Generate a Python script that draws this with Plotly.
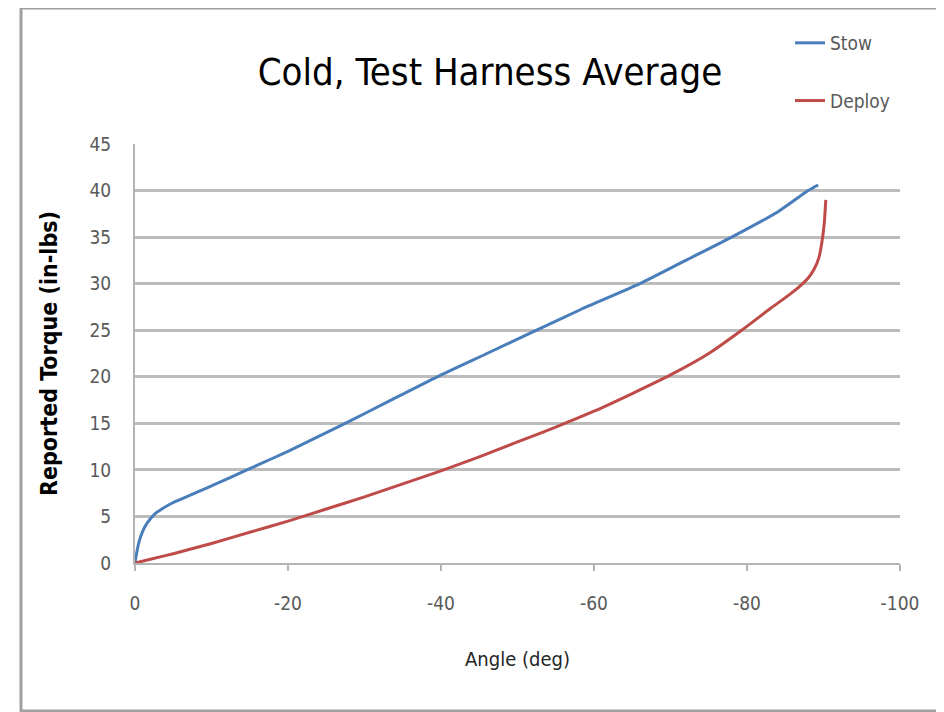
import plotly.graph_objects as go

stow_angle = [0, -0.2, -0.5, -1, -1.6, -2.5, -3.5, -5, -7, -9.5, -12.5, -16, -20, -24, -28, -33, -39.5, -46, -52.5, -58.2, -66, -72, -78, -84, -88, -89.3]
stow_torque = [0, 1.0, 2.2, 3.4, 4.3, 5.2, 5.8, 6.5, 7.2, 8.1, 9.2, 10.5, 12.0, 13.6, 15.2, 17.3, 20.0, 22.5, 25.0, 27.2, 30.0, 32.5, 35.0, 37.7, 40.0, 40.6]

deploy_angle = [0, -2, -5, -10, -15, -20, -25, -30, -35, -40, -45, -50, -55, -60, -65, -70, -75, -79.3, -83, -85.5, -87, -88, -88.8, -89.4, -89.8, -90.1, -90.3]
deploy_torque = [0, 0.4, 1.0, 2.1, 3.3, 4.5, 5.8, 7.1, 8.5, 9.9, 11.4, 13.0, 14.6, 16.3, 18.2, 20.2, 22.5, 25.0, 27.3, 28.8, 29.8, 30.6, 31.6, 32.8, 34.5, 36.5, 39.0]

x_ticks = [0, -20, -40, -60, -80, -100]
x_tick_labels = ["0", "-20", "-40", "-60", "-80", "-100"]
y_ticks = [0, 5, 10, 15, 20, 25, 30, 35, 40, 45]

FONT = "DejaVu Sans Condensed, Lato, sans-serif"

fig = go.Figure()
fig.add_trace(go.Scatter(x=stow_angle, y=stow_torque, mode="lines", name="Stow",
                         line=dict(color="#4a7ebb", width=3, shape="spline", smoothing=0.6),
                         legendgroup="a"))
fig.add_trace(go.Scatter(x=deploy_angle, y=deploy_torque, mode="lines", name="Deploy",
                         line=dict(color="#be4b48", width=3, shape="spline", smoothing=0.6),
                         legendgroup="b"))

OFF = 8  # page body margin
W, H = 944, 712
# target plot area on screen: x 135..900, y 144..563
L, T = 135 - OFF, 144 - OFF
pw, ph = 900 - 135, 563 - 144
R = W - L - pw
B = H - T - ph

def px(x):
    return (x - OFF - L) / pw

def py(y):
    return (T + ph - (y - OFF)) / ph

fig.update_layout(
    width=W, height=H,
    margin=dict(l=L, r=R, t=T, b=B),
    paper_bgcolor="white", plot_bgcolor="white",
    font=dict(family=FONT, color="#595959"),
    title=dict(text="Cold, Test Harness Average", xref="container", x=(490 - OFF) / W,
               xanchor="center", y=1 - (72 - OFF) / H, yanchor="middle",
               font=dict(family=FONT, size=38, color="#000000")),
    showlegend=True,
    legend=dict(x=px(790), y=py(24), xanchor="left", yanchor="top",
                font=dict(family=FONT, size=19, color="#595959"),
                tracegroupgap=30, bgcolor="rgba(0,0,0,0)", itemwidth=30),
    xaxis=dict(range=[0, -100], autorange=False, tickmode="array", tickvals=x_ticks,
               ticktext=x_tick_labels, showgrid=False, zeroline=False,
               showline=True, linecolor="#b4b4b4", linewidth=2,
               ticks="outside", ticklen=6, tickcolor="#b4b4b4", tickwidth=2,
               ticklabelstandoff=16,
               tickfont=dict(family=FONT, size=19, color="#595959"),
               title=dict(text="Angle (deg)", standoff=39,
                          font=dict(family=FONT, size=20, color="#262626"))),
    yaxis=dict(range=[0, 45], autorange=False, tickmode="array", tickvals=y_ticks,
               showgrid=True, gridcolor="#bcbcbc", gridwidth=3, zeroline=False,
               showline=True, linecolor="#b4b4b4", linewidth=2,
               ticks="", ticklabelstandoff=18,
               tickfont=dict(family=FONT, size=19, color="#595959"),
               title=dict(text="<b>Reported Torque (in-lbs)</b>", standoff=25,
                          font=dict(family=FONT, size=23, color="#000000"))),
    shapes=[dict(type="rect", xref="paper", yref="paper",
                 x0=px(21), x1=px(960), y0=py(711), y1=py(8),
                 line=dict(color="#a0a0a0", width=3), fillcolor="rgba(0,0,0,0)",
                 layer="below")],
)

fig.write_html("out.html")
